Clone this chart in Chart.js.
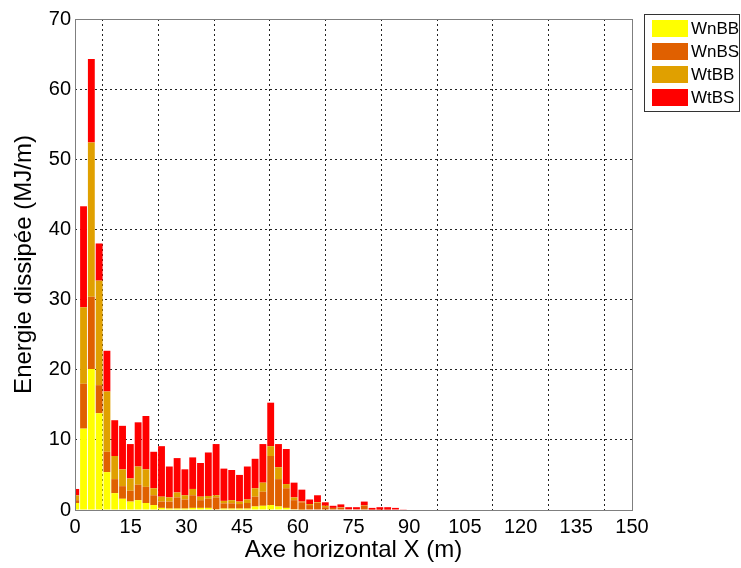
<!DOCTYPE html>
<html>
<head>
<meta charset="utf-8">
<script src="https://cdn.jsdelivr.net/npm/chart.js@4.4.1/dist/chart.umd.min.js"></script>
<style>
html, body { margin: 0; padding: 0; background: #fff; }
#wrap { width: 741px; height: 568px; }
</style>
</head>
<body>
<div id="wrap"><canvas id="chart" width="741" height="568"></canvas></div>
<script>
// bin centres along X (m)
const binCenters = [0.2, 2.3, 4.4, 6.5, 8.6, 10.7, 12.8, 14.9, 17.0, 19.1, 21.2, 23.3, 25.4, 27.5, 29.6,
  31.7, 33.8, 35.9, 38.0, 40.1, 42.2, 44.3, 46.4, 48.5, 50.6, 52.7, 54.8, 56.9, 59.0, 61.1,
  63.2, 65.3, 67.4, 69.5, 71.6, 73.7, 75.8, 77.9, 80.0, 82.1, 84.2, 86.3, 88.4];

// energy per component (MJ/m)
const wnBB = [1.0, 11.6, 20.1, 13.8, 5.4, 2.4, 1.6, 1.2, 1.4, 1.0, 0.7, 0.3, 0.2, 0.2, 0.2,
  0.3, 0.3, 0.3, 0.1, 0.2, 0.2, 0.2, 0.2, 0.5, 0.6, 0.7, 0.5, 0.3, 0.1, 0.05,
  0, 0, 0, 0, 0, 0, 0, 0, 0, 0, 0, 0, 0];
const wnBS = [0.4, 6.4, 10.3, 4.0, 2.9, 2.0, 1.8, 1.55, 2.2, 2.3, 1.4, 0.9, 1.0, 1.6, 1.3,
  1.8, 1.1, 1.3, 1.7, 0.75, 0.75, 0.65, 0.8, 1.4, 2.0, 7.0, 3.9, 2.8, 1.3, 1.05,
  0.7, 1.0, 0.4, 0.3, 0.35, 0.1, 0.1, 0.65, 0.05, 0.05, 0.05, 0, 0];
const wtBB = [0.7, 10.9, 22.0, 14.9, 8.6, 3.3, 2.4, 1.75, 2.6, 2.5, 1.0, 0.7, 0.6, 0.7, 0.6,
  0.9, 0.5, 0.4, 0.3, 0.35, 0.45, 0.35, 0.5, 1.2, 1.3, 1.4, 1.7, 0.6, 0.4, 0.1,
  0.15, 0.1, 0.2, 0, 0.05, 0, 0, 0.05, 0, 0, 0, 0, 0];
const wtBS = [0.9, 14.4, 11.9, 5.3, 5.8, 5.1, 6.2, 4.9, 6.3, 7.6, 5.2, 7.2, 4.4, 4.9, 3.7,
  4.5, 4.8, 6.2, 7.3, 4.6, 4.3, 3.8, 4.7, 4.2, 5.5, 6.2, 3.3, 5.0, 2.1, 1.7,
  0.65, 1.0, 0.5, 0.3, 0.4, 0.3, 0.3, 0.5, 0.25, 0.35, 0.35, 0.3, 0.1];

const seriesNames = ['WnBB', 'WnBS', 'WtBB', 'WtBS'];
const seriesColors = ['#ffff00', '#e06000', '#e0a000', '#ff0000'];
const xTicks = [0, 15, 30, 45, 60, 75, 90, 105, 120, 135, 150];

const FONT = '"Liberation Sans", Arial, sans-serif';

function toPoints(values) {
  return binCenters.map((x, i) => ({ x: x, y: values[i] }));
}

// grey box around the plot area
const frame = {
  id: 'frame',
  afterDatasetsDraw(chart) {
    const a = chart.chartArea;
    const ctx = chart.ctx;
    ctx.save();
    ctx.strokeStyle = '#7f7f7f';
    ctx.lineWidth = 1;
    ctx.strokeRect(Math.round(a.left) + 0.5, Math.round(a.top) + 0.5,
      Math.round(a.right - a.left), Math.round(a.bottom - a.top));
    ctx.restore();
  }
};

// legend box in the top right corner
const boxLegend = {
  id: 'boxLegend',
  afterDraw(chart) {
    const ctx = chart.ctx;
    ctx.save();
    ctx.fillStyle = '#fff';
    ctx.fillRect(644, 14, 95, 98);
    ctx.strokeStyle = '#333';
    ctx.lineWidth = 1;
    ctx.strokeRect(644.5, 14.5, 95, 97);
    ctx.font = '17px ' + FONT;
    ctx.textBaseline = 'middle';
    chart.data.datasets.forEach((ds, i) => {
      const y = 20 + i * 23;
      ctx.fillStyle = ds.backgroundColor;
      ctx.fillRect(652, y, 36, 17);
      ctx.fillStyle = '#000';
      ctx.fillText(ds.label, 691, y + 9);
    });
    ctx.restore();
  }
};

const allSeries = [wnBB, wnBS, wtBB, wtBS];

new Chart(document.getElementById('chart'), {
  type: 'bar',
  data: {
    datasets: allSeries.map((vals, i) => ({
      label: seriesNames[i],
      data: toPoints(vals),
      backgroundColor: seriesColors[i],
      borderWidth: 0,
      barPercentage: 0.88,
      categoryPercentage: 1.0
    }))
  },
  options: {
    responsive: false,
    animation: false,
    layout: { padding: { top: 19, right: 109, left: 0, bottom: 0 } },
    plugins: {
      legend: { display: false },
      tooltip: { enabled: false }
    },
    scales: {
      x: {
        type: 'linear',
        stacked: true,
        offset: false,
        min: 0,
        max: 150,
        afterBuildTicks: (scale) => { scale.ticks = xTicks.map(v => ({ value: v })); },
        afterFit: (scale) => { scale.height = 58; },
        ticks: { color: '#000', font: { family: FONT, size: 20 }, padding: 5, maxRotation: 0 },
        grid: { color: '#222', lineWidth: 1, drawTicks: false },
        border: { display: false, dash: [2, 3] },
        title: {
          display: true,
          text: 'Axe horizontal X (m)',
          color: '#000',
          font: { family: FONT, size: 24 },
          padding: { top: 0, bottom: 3 }
        }
      },
      y: {
        stacked: true,
        min: 0,
        max: 70,
        afterFit: (scale) => { scale.width = 75; },
        ticks: { stepSize: 10, color: '#000', font: { family: FONT, size: 20 }, padding: 4 },
        grid: { color: '#222', lineWidth: 1, drawTicks: false },
        border: { display: false, dash: [2, 3] },
        title: {
          display: true,
          text: 'Energie dissipée (MJ/m)',
          color: '#000',
          font: { family: FONT, size: 24 },
          padding: { top: 10, bottom: 0 }
        }
      }
    }
  },
  plugins: [frame, boxLegend]
});
</script>
</body>
</html>
